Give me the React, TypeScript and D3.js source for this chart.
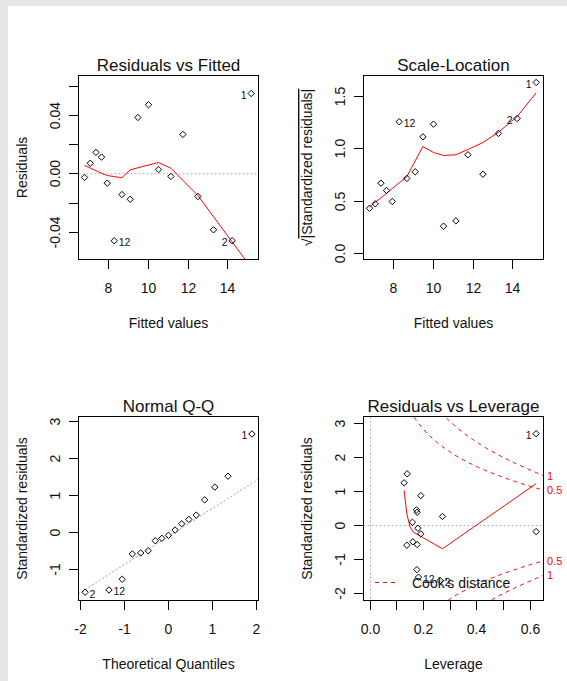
import React from "react";
import * as d3 from "d3";

// ---------- Residuals vs Fitted ----------
const fittedValues = [6.794, 7.08, 7.367, 7.648, 7.935, 8.286, 8.673, 9.09, 9.477, 10.01, 10.513, 11.136, 11.739, 12.492, 13.276, 14.216, 15.171];
const residuals = [-0.0025, 0.0072, 0.0146, 0.0114, -0.0064, -0.0458, -0.0142, -0.0174, 0.0385, 0.0472, 0.0029, -0.0018, 0.0269, -0.0155, -0.0383, -0.0458, 0.0549];
const residSmooth = [0.0057, 0.0039, 0.0021, 0.0004, -0.0012, -0.0019, -0.0027, 0.0027, 0.0041, 0.006, 0.0077, 0.0038, -0.0045, -0.0148, -0.0293, -0.0466, -0.0641];
const fittedPointLabels = ["", "", "", "", "", "12", "", "", "", "", "", "", "", "", "", "2", "1"];

// ---------- Scale-Location ----------
const sqrtStdResid = [0.431, 0.473, 0.671, 0.601, 0.495, 1.259, 0.716, 0.78, 1.115, 1.236, 0.259, 0.31, 0.943, 0.757, 1.147, 1.29, 1.635];
const scaleSmooth = [0.44, 0.49, 0.53, 0.574, 0.62, 0.674, 0.735, 0.884, 1.022, 0.965, 0.936, 0.943, 0.993, 1.06, 1.159, 1.309, 1.536];

// ---------- Normal Q-Q ----------
const theoreticalQuantiles = [-1.89, -1.35, -1.05, -0.82, -0.63, -0.46, -0.3, -0.15, 0, 0.15, 0.3, 0.46, 0.63, 0.82, 1.05, 1.35, 1.89];
const sortedStdResid = [-1.606, -1.545, -1.256, -0.574, -0.546, -0.485, -0.216, -0.151, -0.07, 0.073, 0.243, 0.361, 0.477, 0.889, 1.232, 1.528, 2.668];
const qqPointLabels = ["2", "12", "", "", "", "", "", "", "", "", "", "", "", "", "", "", "1"];
const qqLineIntercept = -0.1;
const qqLineSlope = 0.76;

// ---------- Residuals vs Leverage ----------
const leverage = [0.1275, 0.1387, 0.19, 0.1736, 0.1762, 0.2711, 0.1586, 0.1789, 0.19, 0.1376, 0.1601, 0.1762, 0.1751, 0.1811, 0.2625, 0.6224, 0.6224];
const levStdResid = [1.255, 1.52, 0.88, 0.46, 0.39, 0.265, 0.097, -0.08, -0.245, -0.58, -0.48, -0.56, -1.3, -1.52, -1.62, 2.7, -0.18];
const levPointLabels = ["", "", "", "", "", "", "", "", "", "", "", "", "", "12", "2", "1", ""];
const levSmoothX = [0.1275, 0.1376, 0.15, 0.1625, 0.2711, 0.6224];
const levSmoothY = [1.03, 0.34, -0.05, -0.197, -0.685, 1.23];
const cookLevels = [0.5, 1];
const cookLevelLabels = ["0.5", "1"];
const modelParams = 4;

// ---------- Ticks ----------
const fittedTicks = [8, 10, 12, 14];
const fittedTickLabels = ["8", "10", "12", "14"];
const residTicks = [-0.04, -0.02, 0, 0.02, 0.04, 0.06];
const residTickLabels = ["-0.04", "", "0.00", "", "0.04", ""];
const scaleTicks = [0, 0.5, 1, 1.5];
const scaleTickLabels = ["0.0", "0.5", "1.0", "1.5"];
const qqXTicks = [-2, -1, 0, 1, 2];
const qqXTickLabels = ["-2", "-1", "0", "1", "2"];
const qqYTicks = [-1, 0, 1, 2, 3];
const qqYTickLabels = ["-1", "0", "1", "2", "3"];
const levXTicks = [0, 0.1, 0.2, 0.3, 0.4, 0.5, 0.6];
const levXTickLabels = ["0.0", "", "0.2", "", "0.4", "", "0.6"];
const levYTicks = [-2, -1, 0, 1, 2, 3];
const levYTickLabels = ["-2", "-1", "0", "1", "2", "3"];

// ---------- Layout ----------
const W = 567;
const H = 681;
const FONT = "'Liberation Sans', Arial, Helvetica, sans-serif";
const COLS = [78.5, 363.5];
const ROWS = [75.5, 416.5];
const PW = 180;
const PH = 184;
const TEXT = "#111";

const crisp = (v: number) => Math.round(v - 0.5) + 0.5;

const diamond = "M0,-3.2L3.2,0L0,3.2L-3.2,0Z";

type FrameProps = {
  left: number; top: number;
  xScale: d3.ScaleLinear<number, number>; yScale: d3.ScaleLinear<number, number>;
  xTicks: number[]; xTickLabels: string[]; yTicks: number[]; yTickLabels: string[];
  title: string; xTitle: string; yTitle: React.ReactNode;
};

function Frame(p: FrameProps) {
  const right = p.left + PW;
  const bottom = p.top + PH;
  const cx = (p.left + right) / 2;
  const cy = (p.top + bottom) / 2;
  const xs = p.xTicks.map((t) => crisp(p.xScale(t)));
  const ys = p.yTicks.map((t) => crisp(p.yScale(t)));
  return (
    <g>
      <rect x={p.left} y={p.top} width={PW} height={PH} fill="none" stroke="#000" />
      <line x1={xs[0]} x2={xs[xs.length - 1]} y1={bottom} y2={bottom} stroke="#000" />
      {xs.map((x, i) => (
        <g key={"x" + i}>
          <line x1={x} x2={x} y1={bottom} y2={bottom + 9.5} stroke="#000" />
          {p.xTickLabels[i] ? (
            <text x={x} y={bottom + 28} textAnchor="middle" dominantBaseline="central" fontSize={14} fill={TEXT}>
              {p.xTickLabels[i]}
            </text>
          ) : null}
        </g>
      ))}
      <line x1={p.left} x2={p.left} y1={ys[0]} y2={ys[ys.length - 1]} stroke="#000" />
      {ys.map((y, i) => (
        <g key={"y" + i}>
          <line x1={p.left - 9.5} x2={p.left} y1={y} y2={y} stroke="#000" />
          {p.yTickLabels[i] ? (
            <text
              transform={`translate(${p.left - 24},${y}) rotate(-90)`}
              textAnchor="middle"
              dominantBaseline="central"
              fontSize={14}
              fill={TEXT}
            >
              {p.yTickLabels[i]}
            </text>
          ) : null}
        </g>
      ))}
      <text x={cx} y={p.top - 4.5} textAnchor="middle" fontSize={17} fill={TEXT}>
        {p.title}
      </text>
      <text x={cx} y={bottom + 63} textAnchor="middle" dominantBaseline="central" fontSize={14} fill={TEXT}>
        {p.xTitle}
      </text>
      <text
        transform={`translate(${p.left - 56.5},${cy}) rotate(-90)`}
        textAnchor="middle"
        dominantBaseline="central"
        fontSize={14}
        fill={TEXT}
      >
        {p.yTitle}
      </text>
    </g>
  );
}

function Points({ xs, ys, labels, xScale, yScale }: { xs: number[]; ys: number[]; labels: string[]; xScale: any; yScale: any }) {
  const [d0, d1] = xScale.domain();
  const mid = (d0 + d1) / 2;
  return (
    <g>
      {xs.map((v, i) => (
        <path key={"p" + i} d={diamond} transform={`translate(${xScale(v)},${yScale(ys[i])})`} fill="none" stroke="#000" strokeWidth={1} />
      ))}
      {xs.map((v, i) =>
        labels[i] ? (
          <text
            key={"l" + i}
            x={xScale(v) + (v > mid ? -4.5 : 4.5)}
            y={yScale(ys[i]) + 1.5}
            textAnchor={v > mid ? "end" : "start"}
            dominantBaseline="central"
            fontSize={10.5}
            fill={TEXT}
          >
            {labels[i]}
          </text>
        ) : null
      )}
    </g>
  );
}

export default function App() {
  // Scales
  const x1 = d3.scaleLinear().domain([6.49, 15.54]).range([COLS[0], COLS[0] + PW]);
  const y1 = d3.scaleLinear().domain([-0.0586, 0.0672]).range([ROWS[0] + PH, ROWS[0]]);
  const x2 = d3.scaleLinear().domain([6.49, 15.54]).range([COLS[1], COLS[1] + PW]);
  const y2 = d3.scaleLinear().domain([-0.06, 1.702]).range([ROWS[0] + PH, ROWS[0]]);
  const x3 = d3.scaleLinear().domain([-2.04, 2.04]).range([COLS[0], COLS[0] + PW]);
  const y3 = d3.scaleLinear().domain([-1.83, 3.14]).range([ROWS[1] + PH, ROWS[1]]);
  const x4 = d3.scaleLinear().domain([-0.025, 0.65]).range([COLS[1], COLS[1] + PW]);
  const y4 = d3.scaleLinear().domain([-2.206, 3.206]).range([ROWS[1] + PH, ROWS[1]]);

  const line1 = d3.line<number>().x((_, i) => x1(fittedValues[i])).y((d) => y1(d));
  const line2 = d3.line<number>().x((_, i) => x2(fittedValues[i])).y((d) => y2(d));
  const line4 = d3.line<number>().x((_, i) => x4(levSmoothX[i])).y((d) => y4(d));

  // Cook's distance contours (R's plot.lm definition): r = ±sqrt(D * p * (1 - h) / h)
  const hMax = x4.domain()[1];
  const hMin = 0.01;
  const hh = d3.range(101).map((i) => hMin + ((hMax - hMin) * i) / 100);
  const cookLine = d3.line<[number, number]>().x((d) => x4(d[0])).y((d) => y4(d[1]));
  const cookR = (lvl: number, h: number) => Math.sqrt((lvl * modelParams * (1 - h)) / h);

  const [q0, q1] = x3.domain();

  const clip = (id: string, col: number, row: number) => (
    <clipPath id={id}>
      <rect x={COLS[col]} y={ROWS[row]} width={PW} height={PH} />
    </clipPath>
  );

  const legendX = COLS[1] + 11.5;
  const legendY = ROWS[1] + PH - 18;

  return (
    <div style={{ position: "absolute", left: 0, top: 0, width: W, height: H }}>
      <svg width={W} height={H} style={{ display: "block", fontFamily: FONT }}>
        <defs>
          {clip("c1", 0, 0)}
          {clip("c2", 1, 0)}
          {clip("c3", 0, 1)}
          {clip("c4", 1, 1)}
        </defs>
        <rect x={0} y={0} width={W} height={H} fill="#e6e6e6" />
        <rect x={8} y={6} width={W - 8} height={H - 6} fill="#ffffff" />

        {/* Residuals vs Fitted */}
        <g clipPath="url(#c1)">
          <line x1={COLS[0]} x2={COLS[0] + PW} y1={y1(0)} y2={y1(0)} stroke="#b4b4b4" strokeDasharray="2,2" />
          <path d={line1(residSmooth) || ""} fill="none" stroke="#ff0000" strokeWidth={1} />
        </g>
        <Points xs={fittedValues} ys={residuals} labels={fittedPointLabels} xScale={x1} yScale={y1} />
        <Frame
          left={COLS[0]} top={ROWS[0]} xScale={x1} yScale={y1}
          xTicks={fittedTicks} xTickLabels={fittedTickLabels}
          yTicks={residTicks} yTickLabels={residTickLabels}
          title="Residuals vs Fitted" xTitle="Fitted values" yTitle="Residuals"
        />

        {/* Scale-Location */}
        <g clipPath="url(#c2)">
          <path d={line2(scaleSmooth) || ""} fill="none" stroke="#ff0000" strokeWidth={1} />
        </g>
        <Points xs={fittedValues} ys={sqrtStdResid} labels={fittedPointLabels} xScale={x2} yScale={y2} />
        <Frame
          left={COLS[1]} top={ROWS[0]} xScale={x2} yScale={y2}
          xTicks={fittedTicks} xTickLabels={fittedTickLabels}
          yTicks={scaleTicks} yTickLabels={scaleTickLabels}
          title="Scale-Location" xTitle="Fitted values"
          yTitle={
            <>
              {"√"}
              <tspan style={{ textDecoration: "overline" }}>|Standardized residuals|</tspan>
            </>
          }
        />

        {/* Normal Q-Q */}
        <g clipPath="url(#c3)">
          <line
            x1={x3(q0)} y1={y3(qqLineIntercept + qqLineSlope * q0)}
            x2={x3(q1)} y2={y3(qqLineIntercept + qqLineSlope * q1)}
            stroke="#a0a0a0" strokeDasharray="2,2"
          />
        </g>
        <Points xs={theoreticalQuantiles} ys={sortedStdResid} labels={qqPointLabels} xScale={x3} yScale={y3} />
        <Frame
          left={COLS[0]} top={ROWS[1]} xScale={x3} yScale={y3}
          xTicks={qqXTicks} xTickLabels={qqXTickLabels}
          yTicks={qqYTicks} yTickLabels={qqYTickLabels}
          title="Normal Q-Q" xTitle="Theoretical Quantiles" yTitle="Standardized residuals"
        />

        {/* Residuals vs Leverage */}
        <g clipPath="url(#c4)">
          <line x1={COLS[1]} x2={COLS[1] + PW} y1={crisp(y4(0))} y2={crisp(y4(0))} stroke="#b4b4b4" strokeDasharray="2,2" />
          <line x1={crisp(x4(0))} x2={crisp(x4(0))} y1={ROWS[1]} y2={ROWS[1] + PH} stroke="#b4b4b4" strokeDasharray="2,2" />
          {cookLevels.map((lvl, i) => (
            <g key={"ck" + i}>
              <path d={cookLine(hh.map((h) => [h, cookR(lvl, h)] as [number, number])) || ""} fill="none" stroke="#ff0000" strokeDasharray="4,4" />
              <path d={cookLine(hh.map((h) => [h, -cookR(lvl, h)] as [number, number])) || ""} fill="none" stroke="#ff0000" strokeDasharray="4,4" />
            </g>
          ))}
          <path d={line4(levSmoothY) || ""} fill="none" stroke="#ff0000" strokeWidth={1} />
        </g>
        {cookLevels.map((lvl, i) => (
          <g key={"cl" + i}>
            <text x={COLS[1] + PW + 3.5} y={y4(cookR(lvl, hMax))} dominantBaseline="central" fontSize={11} fill="#ff0000">
              {cookLevelLabels[i]}
            </text>
            <text x={COLS[1] + PW + 3.5} y={y4(-cookR(lvl, hMax))} dominantBaseline="central" fontSize={11} fill="#ff0000">
              {cookLevelLabels[i]}
            </text>
          </g>
        ))}
        <Points xs={leverage} ys={levStdResid} labels={levPointLabels} xScale={x4} yScale={y4} />
        <Frame
          left={COLS[1]} top={ROWS[1]} xScale={x4} yScale={y4}
          xTicks={levXTicks} xTickLabels={levXTickLabels}
          yTicks={levYTicks} yTickLabels={levYTickLabels}
          title="Residuals vs Leverage" xTitle="Leverage" yTitle="Standardized residuals"
        />
        {/* Legend */}
        <line x1={legendX} x2={legendX + 24} y1={legendY} y2={legendY} stroke="#ff0000" strokeDasharray="4,4" />
        <text x={legendX + 37} y={legendY} dominantBaseline="central" fontSize={14} fill={TEXT}>
          Cook's distance
        </text>
      </svg>
    </div>
  );
}
